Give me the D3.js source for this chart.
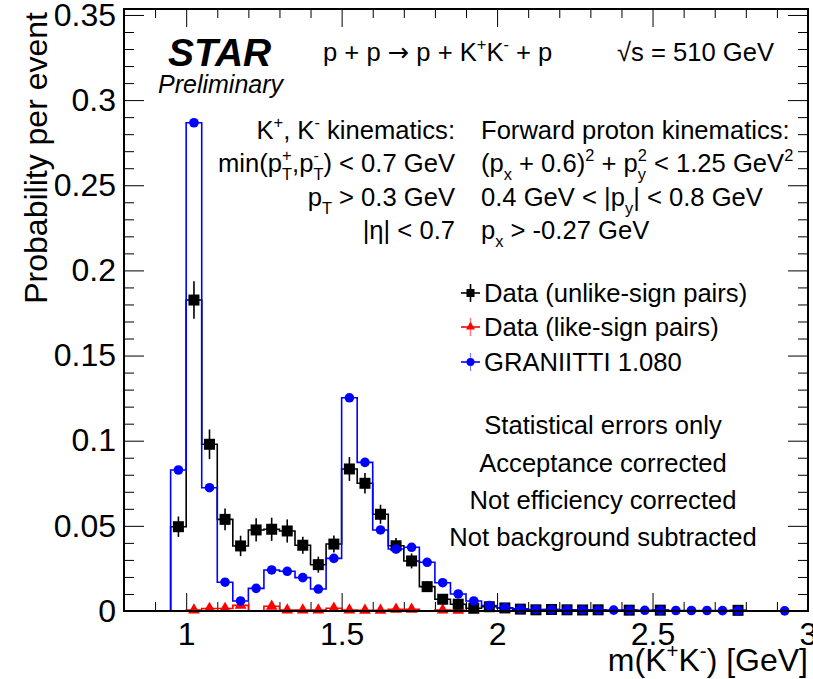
<!DOCTYPE html>
<html><head><meta charset="utf-8">
<script src="https://cdn.jsdelivr.net/npm/d3@7"></script>
<style>
body{margin:0;background:#fff}
svg{display:block}
text{font-family:"Liberation Sans",Arial,Helvetica,sans-serif;white-space:pre;fill:#000}
</style>
</head><body>
<svg id="c" width="813" height="679"></svg>
<script>
// ---- data ----
const massBins = [0.975,1.025,1.075,1.125,1.175,1.225,1.275,1.325,1.375,1.425,
  1.475,1.525,1.575,1.625,1.675,1.725,1.775,1.825,1.875,1.925,
  1.975,2.025,2.075,2.125,2.175,2.225,2.275,2.325,2.375,2.425,
  2.475,2.525,2.575,2.625,2.675,2.725,2.775,2.825,2.875,2.925,2.975];
const unlikeSign = [0.0495,0.1826,0.0979,0.0538,0.0382,0.0476,0.0480,0.0470,0.0386,0.0272,
  0.0393,0.0834,0.0750,0.0568,0.0383,0.0294,0.0143,0.0069,0.0040,0.0016,
  0.0025,0.0018,0.0011,0.0007,0.0009,0.0007,0.0006,0.0007,null,0.0005,
  null,0.0005,null,null,null,null,0.0004,null,null,null,null];
const unlikeErr = [0.0060,0.0110,0.0087,0.0064,0.0060,0.0068,0.0068,0.0068,0.0050,0.0047,
  0.0050,0.0070,0.0060,0.0056,0.0045,0.0044,0.0030,0.0020,0.0015,0.0010,
  0.0010,0.0008,0.0007,0.0006,0.0006,0.0006,0.0005,0.0006,null,0.0005,
  null,0.0005,null,null,null,null,0.0004,null,null,null,null];
const likeSign = [null,0.0006,0.0015,0.0015,0.0033,null,0.0028,0.0006,0.0006,0.0006,
  0.0016,0.0006,0.0004,0.0004,0.0010,0.0010,null,0.0006,0.0004,null,
  null,null,null,null,null,null,null,null,null,null,
  null,null,null,null,null,null,null,null,null,null,null];
const likeErr = [null,0.0006,0.0009,0.0009,0.0013,null,0.0012,0.0006,0.0006,0.0006,
  0.0009,0.0006,0.0004,0.0004,0.0007,0.0007,null,0.0006,0.0004,null,
  null,null,null,null,null,null,null,null,null,null,
  null,null,null,null,null,null,null,null,null,null,null];
const graniitti = [0.0828,0.2867,0.0724,0.0169,0.0059,0.0133,0.0241,0.0233,0.0196,0.0129,
  0.0309,0.1252,0.0873,0.0476,0.0364,0.0374,0.0286,0.0166,0.0100,0.0059,
  0.0032,0.0019,0.0012,0.0009,0.0008,0.0007,0.0006,0.0006,0.0005,0.0005,
  0.0004,0.0004,0.0003,0.0003,0.0003,0.0002,0.0002,null,null,0.0001,null];
const xMajorTicks = [1,1.5,2,2.5,3];
const xTickLabels = ["1","1.5","2","2.5","3"];
const yMajorTicks = [0,0.05,0.1,0.15,0.2,0.25,0.3,0.35];
const yTickLabels = ["0","0.05","0.1","0.15","0.2","0.25","0.3","0.35"];
const legendLabels = ["Data (unlike-sign pairs)","Data (like-sign pairs)","GRANIITTI 1.080"];
const noteLines = ["Statistical errors only","Acceptance corrected","Not efficiency corrected","Not background subtracted"];

// ---- layout ----
const svg = d3.select("#c");
const X0=124, X1=808, Y0=611, Y1=9;
const x = d3.scaleLinear().domain([0.8,3.0]).range([X0,X1]);
const y = d3.scaleLinear().domain([0,0.3535]).range([Y0,Y1]);
const half = (massBins[1]-massBins[0])/2;

// ---- axes ticks ----
const xMinor = d3.range(8,31).map(d=>d/10).filter(d=>!xMajorTicks.some(m=>Math.abs(m-d)<1e-9));
const yMinor = d3.range(0,36).map(d=>d/100).filter(d=>!yMajorTicks.some(m=>Math.abs(m-d)<1e-9));
function axisG(ax){ const g = svg.append("g"); g.call(ax); g.select(".domain").remove(); g.selectAll("line").attr("stroke","#000").attr("stroke-width",1); return g; }
const tickFont = 32;
const gxb = axisG(d3.axisBottom(x).tickValues(xMajorTicks).tickSize(-18).tickPadding(11)
   .tickFormat((d,i)=>xTickLabels[i])).attr("transform",`translate(0,${Y0})`);
gxb.selectAll("text").attr("font-size",tickFont).attr("font-family","Liberation Sans, Arial, sans-serif");
axisG(d3.axisBottom(x).tickValues(xMinor).tickSize(-9).tickFormat("")).attr("transform",`translate(0,${Y0})`);
axisG(d3.axisTop(x).tickValues(xMajorTicks).tickSize(-18).tickFormat("")).attr("transform",`translate(0,${Y1})`);
axisG(d3.axisTop(x).tickValues(xMinor).tickSize(-9).tickFormat("")).attr("transform",`translate(0,${Y1})`);
const gyl = axisG(d3.axisLeft(y).tickValues(yMajorTicks).tickSize(-20).tickPadding(8)
   .tickFormat((d,i)=>yTickLabels[i])).attr("transform",`translate(${X0},0)`);
gyl.selectAll("text").attr("font-size",tickFont).attr("font-family","Liberation Sans, Arial, sans-serif");
axisG(d3.axisLeft(y).tickValues(yMinor).tickSize(-10).tickFormat("")).attr("transform",`translate(${X0},0)`);
axisG(d3.axisRight(y).tickValues(yMajorTicks).tickSize(-20).tickFormat("")).attr("transform",`translate(${X1},0)`);
axisG(d3.axisRight(y).tickValues(yMinor).tickSize(-10).tickFormat("")).attr("transform",`translate(${X1},0)`);

// ---- histograms ----
function stepPoints(vals){
  const pts=[[0.8,0],[massBins[0]-half,0]];
  vals.forEach((v,i)=>{ const vv=v==null?0:v; pts.push([massBins[i]-half,vv]); pts.push([massBins[i]+half,vv]); });
  pts.push([massBins[massBins.length-1]+half,0]); pts.push([3.0,0]);
  return pts;
}
const line = d3.line().x(d=>x(d[0])).y(d=>y(d[1]));
const plot = svg.append("g");
function drawHist(vals,color){
  plot.append("path").attr("d",line(stepPoints(vals))).attr("fill","none").attr("stroke",color).attr("stroke-width",1.6);
}
drawHist(likeSign,"#ff0000");
drawHist(unlikeSign,"#000000");
drawHist(graniitti,"#0000ff");

// error bars & markers
const tri = d3.symbol().type(d3.symbolTriangle).size(60);
likeSign.forEach((v,i)=>{ if(v==null) return;
  plot.append("line").attr("x1",x(massBins[i])).attr("x2",x(massBins[i])).attr("y1",y(v-likeErr[i])).attr("y2",y(v+likeErr[i])).attr("stroke","#ff8080").attr("stroke-width",1.5);
});
likeSign.forEach((v,i)=>{ if(v==null) return;
  plot.append("path").attr("d",tri()).attr("transform",`translate(${x(massBins[i])},${y(v)})`).attr("fill","#ff0000");
});
unlikeSign.forEach((v,i)=>{ if(v==null) return;
  plot.append("line").attr("x1",x(massBins[i])).attr("x2",x(massBins[i])).attr("y1",y(Math.max(0,v-unlikeErr[i]))).attr("y2",y(v+unlikeErr[i])).attr("stroke","#000").attr("stroke-width",1.6);
});
unlikeSign.forEach((v,i)=>{ if(v==null) return;
  plot.append("rect").attr("x",x(massBins[i])-5.5).attr("y",y(v)-5.5).attr("width",11).attr("height",11).attr("fill","#000");
});
graniitti.forEach((v,i)=>{ if(v==null) return;
  plot.append("circle").attr("cx",x(massBins[i])).attr("cy",y(v)).attr("r",4.8).attr("fill","#0000ff");
});

// frame
svg.append("rect").attr("x",X0).attr("y",Y1).attr("width",X1-X0).attr("height",Y0-Y1).attr("fill","none").attr("stroke","#000").attr("stroke-width",2);

// ---- rich text helper ----
function rich(x0,y0,segs,size,anchor,extra){
  const g = svg.append("g");
  let cx=0;
  segs.forEach(s=>{
    if(typeof s==="string") s={t:s};
    if(s.sup!==undefined||s.sub!==undefined){
      let w=0;
      if(s.sup!==undefined){ const t=g.append("text").attr("x",cx).attr("y",-size*0.42).attr("font-size",size*0.64).text(s.sup); w=Math.max(w,t.node().getComputedTextLength()); }
      if(s.sub!==undefined){ const t=g.append("text").attr("x",cx).attr("y",size*0.32).attr("font-size",size*0.64).text(s.sub); w=Math.max(w,t.node().getComputedTextLength()); }
      cx+=w;
    } else {
      const t=g.append("text").attr("x",cx).attr("y",0).attr("font-size",size).text(s.t);
      if(s.font) t.style("font-family",s.font);
      if(extra) extra(t);
      cx+=t.node().getComputedTextLength();
    }
  });
  const dx = anchor==="end"?-cx:anchor==="middle"?-cx/2:0;
  g.attr("transform",`translate(${x0+dx},${y0})`);
  return g;
}

// axis titles
svg.append("text").attr("transform",`translate(47,12) rotate(-90)`).attr("text-anchor","end").attr("font-size",32).text("Probability per event");
rich(808,671,["m(K",{sup:"+"},"K",{sup:"-"},") [GeV]"],32,"end");

// header
const fs=25.6;
rich(168,66,["STAR"],39,"start",t=>t.attr("font-weight","bold").attr("font-style","italic"));
rich(158,93,["Preliminary"],25,"start",t=>t.attr("font-style","italic"));
rich(323,61,["p + p ",{t:"\u2192",font:"DejaVu Sans"}," p + K",{sup:"+"},"K",{sup:"-"}," + p"],fs,"start");
rich(617,61,["\u221As = 510 GeV"],fs,"start");

// kinematics
rich(455,139,["K",{sup:"+"},", K",{sup:"-"}," kinematics:"],fs,"end");
rich(455,172,["min(p",{sup:"+",sub:"T"},",p",{sup:"-",sub:"T"},") < 0.7 GeV"],fs,"end");
rich(455,206,["p",{sub:"T"}," > 0.3 GeV"],fs,"end");
rich(455,239,["|\u03B7| < 0.7"],fs,"end");
rich(481,139,["Forward proton kinematics:"],fs,"start");
rich(481,172,["(p",{sub:"x"}," + 0.6)",{sup:"2"}," + p",{sup:"2",sub:"y"}," < 1.25 GeV",{sup:"2"}],fs,"start");
rich(481,206,["0.4 GeV < |p",{sub:"y"},"| < 0.8 GeV"],fs,"start");
rich(481,239,["p",{sub:"x"}," > -0.27 GeV"],fs,"start");

// legend
const legY=[293,327,362];
const leg = svg.append("g");
leg.append("line").attr("x1",461).attr("x2",480).attr("y1",legY[0]).attr("y2",legY[0]).attr("stroke","#000").attr("stroke-width",1.6);
leg.append("line").attr("x1",470.5).attr("x2",470.5).attr("y1",legY[0]-9).attr("y2",legY[0]+9).attr("stroke","#000").attr("stroke-width",1.6);
leg.append("rect").attr("x",466.5).attr("y",legY[0]-4).attr("width",8).attr("height",8).attr("fill","#000");
leg.append("line").attr("x1",461).attr("x2",480).attr("y1",legY[1]).attr("y2",legY[1]).attr("stroke","#ff0000").attr("stroke-width",1.6);
leg.append("line").attr("x1",470.5).attr("x2",470.5).attr("y1",legY[1]-9).attr("y2",legY[1]+9).attr("stroke","#ff8080").attr("stroke-width",1.6);
leg.append("path").attr("d",d3.symbol().type(d3.symbolTriangle).size(35)()).attr("transform",`translate(470.5,${legY[1]})`).attr("fill","#ff0000");
leg.append("line").attr("x1",461).attr("x2",480).attr("y1",legY[2]).attr("y2",legY[2]).attr("stroke","#0000ff").attr("stroke-width",1.6);
leg.append("line").attr("x1",470.5).attr("x2",470.5).attr("y1",legY[2]-9).attr("y2",legY[2]+9).attr("stroke","#8080ff").attr("stroke-width",1.2);
leg.append("circle").attr("cx",470.5).attr("cy",legY[2]).attr("r",4).attr("fill","#0000ff");
legendLabels.forEach((t,i)=>{
  leg.append("text").attr("x",484).attr("y",legY[i]+9).attr("font-size",fs).text(t);
});

// notes
const noteY=[434,472,509,546];
noteLines.forEach((t,i)=>{
  svg.append("text").attr("x",603).attr("y",noteY[i]).attr("text-anchor","middle").attr("font-size",fs).text(t);
});
</script>
</body></html>
